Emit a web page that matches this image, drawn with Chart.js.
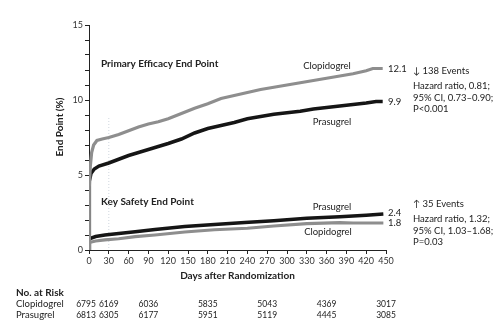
<!DOCTYPE html>
<html>
<head>
<meta charset="utf-8">
<script src="https://cdn.jsdelivr.net/npm/chart.js@4"></script>
<style>
  html, body { margin: 0; padding: 0; background: #fff; }
  #wrap { width: 495px; height: 326px; position: relative; }
</style>
</head>
<body>
<div id="wrap"><canvas id="km"></canvas></div>
<script>
// Kaplan-Meier estimates, percent with end point by day
const effClopDays = [0, 0.5, 2, 4, 7, 12, 20, 30, 45, 60, 75, 90, 105, 120, 140, 160, 180, 200, 220, 240, 260, 280, 300, 320, 340, 360, 380, 400, 420, 430, 445];
const effClopVals = [0, 4.2, 5.6, 6.5, 7.0, 7.3, 7.4, 7.5, 7.7, 7.95, 8.2, 8.4, 8.55, 8.75, 9.1, 9.45, 9.75, 10.1, 10.3, 10.5, 10.7, 10.85, 11.0, 11.15, 11.3, 11.45, 11.6, 11.75, 11.95, 12.1, 12.1];

const effPrasDays = [0, 0.5, 3, 8, 15, 30, 45, 60, 75, 90, 105, 120, 140, 160, 180, 200, 220, 240, 260, 280, 300, 320, 340, 360, 380, 400, 420, 435, 445];
const effPrasVals = [0, 4.6, 5.1, 5.4, 5.6, 5.8, 6.05, 6.3, 6.5, 6.7, 6.9, 7.1, 7.4, 7.8, 8.1, 8.3, 8.5, 8.75, 8.9, 9.05, 9.15, 9.25, 9.4, 9.5, 9.6, 9.7, 9.8, 9.9, 9.9];

const safPrasDays = [0, 0.5, 10, 24, 45, 70, 100, 145, 190, 236, 280, 330, 380, 420, 446];
const safPrasVals = [0, 0.75, 0.9, 1.0, 1.1, 1.22, 1.37, 1.56, 1.7, 1.84, 1.95, 2.11, 2.22, 2.32, 2.4];

const safClopDays = [0, 0.5, 10, 24, 45, 70, 100, 145, 190, 240, 280, 330, 380, 400, 446];
const safClopVals = [0, 0.5, 0.6, 0.67, 0.75, 0.89, 1.0, 1.2, 1.35, 1.45, 1.6, 1.76, 1.82, 1.8, 1.8];

// number at risk table
const riskDays = [0, 30, 90, 180, 270, 360, 450];
const riskClop = [6795, 6169, 6036, 5835, 5043, 4369, 3017];
const riskPras = [6813, 6305, 6177, 5951, 5119, 4445, 3085];

const xTicks = [0, 30, 60, 90, 120, 150, 180, 210, 240, 270, 300, 330, 360, 390, 420, 450];
const yLabels = [0, 5, 10, 15];

const GRAY = '#8e8e8e';
const BLACK = '#151515';
const FONT = 'Lato, "Open Sans", sans-serif';

function pts(days, vals) {
  return days.map((d, i) => ({ x: d, y: vals[i] }));
}

function curve(days, vals, color, width) {
  return {
    data: pts(days, vals),
    borderColor: color,
    borderWidth: width,
    pointRadius: 0,
    tension: 0,
    fill: false
  };
}

// text, landmark line, axis titles and at-risk rows
const annotations = {
  id: 'annotations',
  beforeDatasetsDraw(chart) {
    const { ctx, scales: { x, y } } = chart;
    ctx.save();
    ctx.strokeStyle = '#cfd6de';
    ctx.lineWidth = 1;
    ctx.setLineDash([1, 2]);
    ctx.beginPath();
    ctx.moveTo(x.getPixelForValue(30), y.getPixelForValue(8.8));
    ctx.lineTo(x.getPixelForValue(30), y.getPixelForValue(0));
    ctx.stroke();
    ctx.restore();
  },
  afterDraw(chart) {
    const { ctx, chartArea, scales: { x, y } } = chart;
    ctx.save();
    ctx.fillStyle = '#222';
    ctx.textBaseline = 'middle';

    ctx.font = 'bold 10px ' + FONT;
    ctx.textAlign = 'left';
    ctx.fillText('Primary Efficacy End Point', 101, 64);
    ctx.fillText('Key Safety End Point', 101, 202);

    // axis titles
    ctx.textAlign = 'center';
    ctx.fillText('Days after Randomization', (chartArea.left + chartArea.right) / 2, 276);
    ctx.save();
    ctx.translate(60, 127);
    ctx.rotate(-Math.PI / 2);
    ctx.fillText('End Point (%)', 0, 0);
    ctx.restore();

    ctx.font = '9.5px ' + FONT;
    ctx.fillText('Clopidogrel', 327, 66);
    ctx.fillText('Prasugrel', 332, 122);
    ctx.fillText('Prasugrel', 332, 207);
    ctx.fillText('Clopidogrel', 328, 232);

    ctx.textAlign = 'left';
    const endX = x.getPixelForValue(450) + 2;
    ctx.fillText('12.1', endX, y.getPixelForValue(12.1));
    ctx.fillText('9.9', endX, y.getPixelForValue(9.9));
    ctx.fillText('2.4', endX, y.getPixelForValue(2.5));
    ctx.fillText('1.8', endX, y.getPixelForValue(1.8));

    ctx.fillText('\u2193 138 Events', 413, 71);
    ctx.fillText('Hazard ratio, 0.81;', 413, 86);
    ctx.fillText('95% CI, 0.73\u20130.90;', 413, 98);
    ctx.fillText('P<0.001', 413, 109);

    ctx.fillText('\u2191 35 Events', 413, 204);
    ctx.fillText('Hazard ratio, 1.32;', 413, 219);
    ctx.fillText('95% CI, 1.03\u20131.68;', 413, 231);
    ctx.fillText('P=0.03', 413, 242);

    ctx.font = 'bold 10px ' + FONT;
    ctx.fillText('No. at Risk', 16, 293);
    ctx.font = '9.5px ' + FONT;
    ctx.fillText('Clopidogrel', 16, 304);
    ctx.fillText('Prasugrel', 16, 315);
    ctx.font = '8.5px ' + FONT;
    ctx.textAlign = 'center';
    riskDays.forEach((d, i) => {
      const px = x.getPixelForValue(d) - (d === 0 ? 3 : 0);
      ctx.fillText(String(riskClop[i]), px, 304);
      ctx.fillText(String(riskPras[i]), px, 315);
    });
    ctx.restore();
  }
};

new Chart(document.getElementById('km'), {
  type: 'line',
  data: {
    datasets: [
      curve(effClopDays, effClopVals, GRAY, 3.2),
      curve(safClopDays, safClopVals, GRAY, 3.2),
      curve(effPrasDays, effPrasVals, BLACK, 3.5),
      curve(safPrasDays, safPrasVals, BLACK, 3.5)
    ]
  },
  options: {
    responsive: true,
    maintainAspectRatio: false,
    animation: false,
    layout: { padding: { left: 0, top: 25, right: 109, bottom: 0 } },
    plugins: { legend: { display: false }, tooltip: { enabled: false } },
    scales: {
      x: {
        type: 'linear',
        min: 0,
        max: 450,
        afterBuildTicks: s => { s.ticks = xTicks.map(v => ({ value: v })); },
        afterFit: s => { s.height = 76; },
        grid: { drawOnChartArea: false, tickLength: 4, color: '#222' },
        border: { color: '#222', width: 1 },
        ticks: { color: '#333', font: { family: FONT, size: 9 }, padding: 2, maxRotation: 0, autoSkip: false }
      },
      y: {
        type: 'linear',
        min: 0,
        max: 15,
        ticks: {
          stepSize: 1,
          autoSkip: false,
          color: '#333',
          font: { family: FONT, size: 9 },
          padding: 2,
          callback: v => yLabels.includes(v) ? String(v) : ''
        },
        afterFit: s => { s.width = 89; },
        grid: { drawOnChartArea: false, tickLength: 4, color: '#222' },
        border: { color: '#222', width: 1 }
      }
    }
  },
  plugins: [annotations]
});
</script>
</body>
</html>
